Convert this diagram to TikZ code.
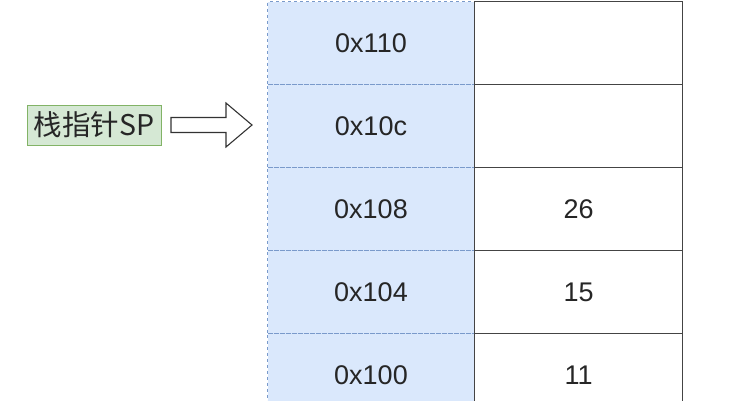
\documentclass[tikz,border=0pt]{standalone}
\usepackage{fontspec}
\setmainfont{Liberation Sans}
\newfontfamily\cjk{Noto Sans CJK SC}
\definecolor{addrfill}{HTML}{DAE8FC}
\definecolor{addrline}{HTML}{7A9ACB}
\definecolor{spfill}{HTML}{D5E8D4}
\definecolor{spline}{HTML}{82B366}
\definecolor{cellline}{HTML}{444444}
\begin{document}
\begin{tikzpicture}[x=1pt,y=-1pt,
  addrcell/.style={draw=addrline, fill=addrfill, dash pattern=on 3pt off 3pt, line width=1pt,
    minimum width=207pt, minimum height=83pt, inner sep=0pt, anchor=north west,
    font=\fontsize{27}{31}\selectfont, text=black!85},
  valcell/.style={draw=cellline, fill=white, line width=1.3pt,
    minimum width=208pt, minimum height=83pt, inner sep=0pt, anchor=north west,
    font=\fontsize{27}{31}\selectfont, text=black!85},
  splabel/.style={draw=spline, fill=spfill, line width=1pt, minimum width=134pt,
    minimum height=40pt, inner sep=0pt, font=\cjk\fontsize{28.5}{32}\selectfont, text=black!85},
  blockarrow/.style={draw=black!80, fill=white, line width=1.1pt, line join=miter}
]
\useasboundingbox (0,0) rectangle (730,400);
% address column
\node[addrcell] (a1) at (267,1) {0x110};
\node[addrcell] (a2) at (267,84) {0x10c};
\node[addrcell] (a3) at (267,167) {0x108};
\node[addrcell] (a4) at (267,250) {0x104};
\node[addrcell] (a5) at (267,333) {0x100};
% value column
\node[valcell] (v1) at (474,1) {};
\node[valcell] (v2) at (474,84) {};
\node[valcell] (v3) at (474,167) {26};
\node[valcell] (v4) at (474,250) {15};
\node[valcell] (v5) at (474,333) {11};
% stack pointer label
\node[splabel] (sp) at (94,125) {栈指针SP};
% block arrow
\draw[blockarrow] (171,117.5) -- (226,117.5) -- (226,103) -- (252,125) -- (226,147) -- (226,132.5) -- (171,132.5) -- cycle;
\end{tikzpicture}
\end{document}
